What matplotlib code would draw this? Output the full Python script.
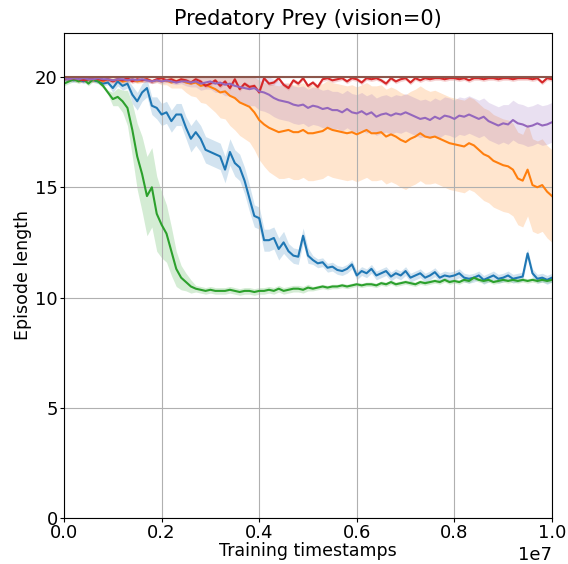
import numpy as np
import matplotlib
matplotlib.use('Agg')
import matplotlib.pyplot as plt
from matplotlib.ticker import MultipleLocator

# временные шаги (каждые 1e5)
steps = np.linspace(0, 1e7, 101)

blue = [19.9, 19.9, 19.85, 19.9, 19.8, 19.9, 19.85, 19.8, 19.7, 19.75,
        19.5, 19.8, 19.6, 19.7, 19.2, 18.9, 19.3, 19.5, 18.7, 18.6,
        18.3, 18.4, 18.0, 18.3, 18.3, 17.7, 17.2, 17.5, 17.2, 16.7,
        16.6, 16.5, 16.4, 15.8, 16.6, 16.1, 15.9, 15.3, 14.5, 13.7,
        13.6, 12.6, 12.6, 12.7, 12.2, 12.5, 12.1, 11.9, 11.85, 12.8,
        11.9, 11.7, 11.55, 11.6, 11.35, 11.4, 11.25, 11.2, 11.3, 11.5,
        11.0, 11.2, 11.1, 11.3, 11.0, 11.1, 11.2, 10.95, 11.1, 11.0,
        11.2, 10.9, 11.0, 11.1, 10.9, 11.0, 11.15, 10.9, 11.0, 10.95,
        11.0, 11.1, 10.9, 10.85, 10.9, 11.0, 10.8, 10.9, 11.0, 10.85,
        10.9, 11.0, 10.85, 10.9, 10.95, 12.0, 11.1, 10.85, 10.9, 10.8, 10.9]
blue_err = [0.1] * 10 + [0.2] * 4 + [0.4] * 5 + [0.5] * 7 + [0.6] * 13 + \
           [0.5] * 7 + [0.35] * 5 + [0.2] * 50

orange = [19.9, 19.95, 19.9, 19.85, 19.9, 19.9, 19.85, 19.9, 19.8, 19.9,
          19.85, 19.9, 19.8, 19.85, 19.9, 19.8, 19.85, 19.9, 19.8, 19.85,
          19.8, 19.85, 19.75, 19.8, 19.85, 19.75, 19.7, 19.75, 19.6, 19.65,
          19.55, 19.45, 19.3, 19.35, 19.15, 19.05, 18.85, 18.75, 18.65, 18.4,
          18.05, 17.85, 17.7, 17.6, 17.5, 17.55, 17.6, 17.5, 17.5, 17.6,
          17.45, 17.45, 17.5, 17.55, 17.7, 17.6, 17.55, 17.5, 17.45, 17.5,
          17.4, 17.5, 17.6, 17.45, 17.45, 17.5, 17.3, 17.4, 17.3, 17.15,
          17.05, 17.2, 17.3, 17.45, 17.3, 17.25, 17.3, 17.2, 17.1, 17.0,
          16.95, 16.9, 16.85, 17.0, 16.9, 16.7, 16.5, 16.4, 16.2, 16.1,
          16.0, 15.95, 15.8, 15.4, 15.3, 15.8, 15.1, 15.0, 15.1, 14.8, 14.6]
orange_err = [0.1] * 20 + [0.15, 0.2, 0.25, 0.3, 0.35, 0.45, 0.55, 0.65, 0.75, 0.85,
              0.95, 1.05, 1.15, 1.25, 1.35, 1.45, 1.5, 1.55, 1.6, 1.7,
              1.8, 1.9, 2.0, 2.05, 2.1] + [2.15] * 30 + [2.1] * 26

green = [19.7, 19.8, 19.9, 19.8, 19.9, 19.7, 19.9, 19.8, 19.6, 19.3,
         19.0, 19.1, 18.9, 18.6, 17.6, 16.4, 15.6, 14.6, 15.0, 13.8,
         13.3, 12.9, 12.1, 11.3, 10.9, 10.7, 10.5, 10.4, 10.35, 10.3,
         10.35, 10.3, 10.3, 10.3, 10.35, 10.3, 10.25, 10.3, 10.3, 10.25,
         10.3, 10.3, 10.35, 10.3, 10.4, 10.3, 10.35, 10.4, 10.4, 10.35,
         10.45, 10.4, 10.45, 10.5, 10.45, 10.5, 10.5, 10.55, 10.5, 10.55,
         10.6, 10.55, 10.6, 10.6, 10.55, 10.65, 10.6, 10.7, 10.6, 10.65,
         10.7, 10.65, 10.6, 10.7, 10.65, 10.7, 10.75, 10.7, 10.8, 10.7,
         10.75, 10.7, 10.8, 10.75, 10.9, 10.8, 10.75, 10.8, 10.7, 10.75,
         10.8, 10.75, 10.8, 10.75, 10.8, 10.75, 10.8, 10.75, 10.8, 10.75, 10.8]
green_err = [0.1] * 10 + [0.3, 0.4, 0.5, 0.8, 1.2, 1.5, 1.7, 1.8, 1.8, 1.7,
             1.5, 1.3, 1.1, 0.8, 0.55, 0.4, 0.3] + [0.15] * 24 + [0.1] * 50

red = [19.95, 19.9, 19.95, 19.9, 19.85, 19.9, 19.95, 19.9, 19.85, 19.9,
       19.8, 19.9, 19.85, 19.95, 19.8, 19.9, 19.85, 19.9, 19.8, 19.9,
       19.95, 19.85, 19.9, 19.8, 19.9, 19.85, 19.75, 19.9, 19.8, 19.6,
       19.7, 19.85, 19.6, 19.8, 19.5, 19.9, 19.45, 19.7, 19.55, 19.6,
       19.3, 19.95, 19.7, 19.75, 19.95, 19.65, 19.5, 19.85, 19.7, 19.95,
       19.6, 19.75, 19.55, 19.9, 19.95, 19.85, 19.9, 19.95, 19.8, 19.95,
       19.9, 19.75, 19.95, 19.9, 19.95, 19.85, 19.7, 19.95, 19.8, 19.9,
       19.95, 19.75, 19.95, 19.85, 19.95, 19.9, 19.95, 19.95, 19.9, 19.95,
       19.95, 19.9, 19.95, 19.85, 19.95, 19.95, 19.9, 19.95, 19.95, 19.9,
       19.95, 19.95, 19.9, 19.95, 19.95, 19.95, 19.9, 19.95, 19.75, 19.95, 19.9]
red_err = [0.1] * 101

purple = [19.95, 19.9, 19.95, 19.9, 19.95, 19.9, 19.9, 19.95, 19.9, 19.9,
          19.85, 19.9, 19.9, 19.85, 19.9, 19.85, 19.9, 19.85, 19.8, 19.85,
          19.8, 19.85, 19.8, 19.75, 19.8, 19.8, 19.75, 19.8, 19.7, 19.75,
          19.8, 19.7, 19.75, 19.65, 19.7, 19.6, 19.55, 19.5, 19.45, 19.5,
          19.35, 19.3, 19.2, 19.05, 18.95, 18.9, 18.85, 18.75, 18.7, 18.75,
          18.6, 18.7, 18.65, 18.55, 18.6, 18.5, 18.5, 18.4, 18.55, 18.4,
          18.35, 18.45, 18.3, 18.4, 18.2, 18.3, 18.35, 18.25, 18.35, 18.3,
          18.4, 18.3, 18.2, 18.1, 18.15, 18.05, 18.2, 18.1, 18.25, 18.2,
          18.1, 18.25, 18.2, 18.3, 18.2, 18.1, 18.2, 18.0, 17.9, 17.8,
          17.9, 17.85, 18.05, 17.9, 17.85, 17.75, 17.8, 17.9, 17.8, 17.85, 17.95]
purple_err = [0.1] * 25 + [0.2, 0.2, 0.25, 0.3, 0.3, 0.35, 0.4, 0.45, 0.5, 0.55,
              0.6, 0.65, 0.7, 0.75, 0.8] + [0.85] * 51 + [0.9] * 10

brown = [20.0] * 101
brown_err = [0.0] * 101

max_len = 20.0  # длина эпизода не больше 20

series = [(blue, blue_err), (orange, orange_err), (green, green_err),
          (red, red_err), (purple, purple_err), (brown, brown_err)]

fig = plt.figure(figsize=(5.68, 5.64), dpi=100)
ax = fig.add_axes([0.1127, 0.0816, 0.8591, 0.86])

for k, (m, e) in enumerate(series):
    m = np.array(m)
    e = np.array(e)
    ax.plot(steps, m, color='C%d' % k, linewidth=1.5)
    ax.fill_between(steps, m - e, np.minimum(m + e, max_len),
                    color='C%d' % k, alpha=0.2, linewidth=0)

ax.set_xlim(0, 1e7)
ax.set_ylim(0, 22)
ax.yaxis.set_major_locator(MultipleLocator(5))
ax.grid(True)
ax.set_title('Predatory Prey (vision=0)', fontsize=15)
ax.set_xlabel('Training timestamps', fontsize=12.5, labelpad=0)
ax.set_ylabel('Episode length', fontsize=12.5, labelpad=2)
ax.tick_params(labelsize=13, length=3, pad=1.5)
ax.xaxis.get_offset_text().set_fontsize(13)

fig.savefig('out.png', dpi=100)
